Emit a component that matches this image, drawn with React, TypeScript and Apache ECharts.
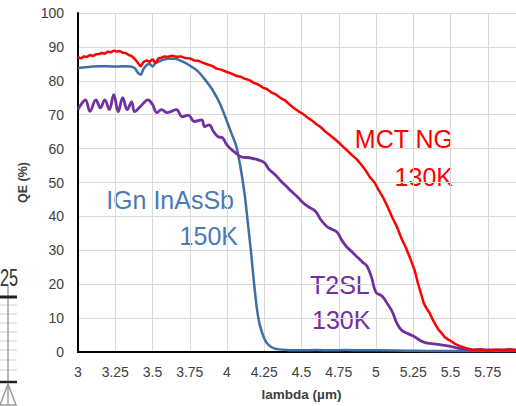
import React, { useEffect, useRef } from "react";
import * as echarts from "echarts";

// Wavelength (µm) and QE (%) values
const mctX = [3.0,3.02,3.04,3.06,3.08,3.1,3.12,3.14,3.16,3.18,3.2,3.22,3.24,3.26,3.28,3.3,3.32,3.34,3.36,3.38,3.4,3.42,3.44,3.46,3.48,3.5,3.52,3.54,3.56,3.58,3.6,3.63,3.66,3.69,3.72,3.75,3.78,3.81,3.84,3.87,3.9,3.93,3.96,4.0,4.03,4.06,4.09,4.12,4.15,4.18,4.21,4.24,4.27,4.3,4.33,4.36,4.39,4.42,4.45,4.48,4.51,4.54,4.57,4.6,4.63,4.66,4.69,4.72,4.75,4.78,4.81,4.84,4.87,4.9,4.93,4.96,4.99,5.02,5.05,5.08,5.11,5.14,5.17,5.2,5.23,5.26,5.28,5.3,5.32,5.34,5.36,5.38,5.4,5.42,5.44,5.46,5.48,5.5,5.53,5.56,5.6,5.65,5.7,5.75,5.8,5.85,5.9,5.95,6.0];
const mctQE = [87.0,86.6,87.2,87.0,87.6,87.3,87.8,87.9,88.2,88.0,88.6,88.4,88.9,88.6,88.8,88.3,88.2,87.6,87.3,86.5,85.4,84.2,85.6,86.0,85.6,86.4,85.2,86.6,86.8,87.2,87.0,87.4,87.1,87.2,86.7,86.6,86.0,85.9,85.3,84.8,84.4,83.6,83.3,82.6,82.1,81.5,81.2,80.6,80.2,79.4,78.9,78.0,77.5,76.5,75.9,74.9,74.2,73.0,71.9,71.0,70.2,69.2,68.3,67.2,66.3,65.0,64.0,62.9,61.8,60.5,59.3,58.0,56.9,55.3,53.6,51.5,50.0,47.6,45.4,42.6,39.6,37.0,33.6,30.8,27.6,24.0,20.5,17.5,14.5,12.8,11.5,9.6,8.0,6.5,5.6,4.4,3.8,3.3,2.4,1.8,1.2,0.6,0.8,0.4,0.7,0.5,0.8,0.4,0.6];

const ignX = [3.0,3.05,3.1,3.15,3.2,3.25,3.3,3.35,3.38,3.4,3.42,3.44,3.46,3.48,3.5,3.52,3.55,3.6,3.65,3.7,3.75,3.8,3.85,3.9,3.95,4.0,4.03,4.06,4.08,4.1,4.12,4.14,4.16,4.18,4.2,4.22,4.25,4.28,4.32,4.4,4.5,4.6,4.7,4.8,4.9,5.0,5.2,5.4,5.6,5.8,6.0];
const ignQE = [83.8,84.0,84.2,84.3,84.3,84.2,84.3,84.2,83.8,82.5,81.8,83.5,84.6,85.0,84.2,85.2,85.8,86.5,86.5,85.7,84.5,83.0,80.5,77.5,73.5,68.0,64.5,61.0,57.0,52.0,46.0,38.0,30.0,21.0,13.0,8.0,4.0,2.0,1.0,0.6,0.5,0.6,0.5,0.6,0.5,0.5,0.4,0.3,0.3,0.3,0.3];

const t2slX = [3.0,3.02,3.05,3.08,3.12,3.15,3.18,3.21,3.24,3.27,3.3,3.33,3.36,3.38,3.42,3.47,3.5,3.53,3.56,3.6,3.66,3.7,3.74,3.78,3.83,3.85,3.88,3.91,3.94,3.97,4.0,4.05,4.1,4.15,4.2,4.25,4.28,4.33,4.36,4.4,4.43,4.47,4.5,4.54,4.58,4.6,4.63,4.67,4.7,4.74,4.77,4.8,4.84,4.87,4.91,4.94,4.97,5.0,5.04,5.08,5.11,5.14,5.17,5.21,5.25,5.32,5.4,5.48,5.58,5.65,5.8,6.0];
const t2slQE = [71.5,73.0,74.4,71.0,74.4,72.0,74.4,71.5,75.9,70.9,75.0,71.5,73.8,70.9,72.5,74.4,73.0,70.6,71.5,70.6,71.5,69.4,69.9,68.0,68.5,66.5,67.0,65.0,63.5,63.2,61.0,59.0,57.5,57.3,56.8,55.9,54.0,52.0,50.5,48.8,47.5,45.9,44.5,43.0,42.0,41.2,39.0,37.0,36.3,35.3,33.0,31.2,29.5,28.2,26.5,25.3,22.0,17.6,16.5,14.0,11.8,8.5,6.5,5.5,4.7,2.9,2.3,1.8,0.9,0.6,0.6,0.6];

const xTicksMin = 3;
const xTicksMax = 6;
const xTickStep = 0.25;
const yTicksMin = 0;
const yTicksMax = 100;
const yTickStep = 10;

const seriesNames = ["IGn InAsSb 150K", "T2SL 130K", "MCT NG 130K"];

const pair = (xs: number[], ys: number[]) => xs.map((x, i) => [x, ys[i]]);

export default function App() {
  const ref = useRef<HTMLDivElement>(null);
  useEffect(() => {
    if (!ref.current) return;
    const chart = echarts.init(ref.current, undefined, { renderer: "svg" });
    const labelColor = "#404040";
    const annFont = "Liberation Sans, Arial, sans-serif";
    const gridLines: any[] = [];
    [305, 314, 323, 332, 341, 350, 360, 370].forEach((y) =>
      gridLines.push({
        type: "line",
        shape: { x1: 0, y1: y, x2: 17, y2: y },
        style: { stroke: "#d0d0d0", lineWidth: 1 },
        silent: true,
      })
    );
    chart.setOption({
      animation: false,
      backgroundColor: "#ffffff",
      grid: { left: 78, top: 13, right: 5, bottom: 53, containLabel: false },
      xAxis: {
        type: "value",
        min: xTicksMin,
        max: xTicksMax,
        interval: xTickStep,
        name: "lambda (µm)",
        nameLocation: "middle",
        nameGap: 35,
        nameTextStyle: { fontWeight: "bold", fontSize: 13.5, color: labelColor, fontFamily: annFont },
        axisLine: { lineStyle: { color: "#000", width: 2 } },
        axisTick: { show: false },
        axisLabel: { color: labelColor, fontSize: 14, margin: 13, fontFamily: annFont, showMaxLabel: false },
        splitLine: { show: true, lineStyle: { color: "#d9d9d9", width: 1 } },
      },
      yAxis: {
        type: "value",
        min: yTicksMin,
        max: yTicksMax,
        interval: yTickStep,
        name: "QE (%)",
        nameLocation: "middle",
        nameGap: 44,
        nameRotate: 90,
        nameTextStyle: { fontWeight: "bold", fontSize: 12.5, color: labelColor, fontFamily: annFont },
        axisLine: { show: true, lineStyle: { color: "#000", width: 2 } },
        axisTick: { show: false },
        axisLabel: { color: labelColor, fontSize: 14, margin: 14, fontFamily: annFont },
        splitLine: { show: true, lineStyle: { color: "#d9d9d9", width: 1 } },
      },
      series: [
        {
          name: seriesNames[0],
          type: "line",
          data: pair(ignX, ignQE),
          showSymbol: false,
          smooth: 0.3,
          lineStyle: { color: "#3C6FA5", width: 2.5 },
        },
        {
          name: seriesNames[1],
          type: "line",
          data: pair(t2slX, t2slQE),
          showSymbol: false,
          smooth: 0.4,
          lineStyle: { color: "#7030A0", width: 2.8 },
        },
        {
          name: seriesNames[2],
          type: "line",
          data: pair(mctX, mctQE),
          showSymbol: false,
          lineStyle: { color: "#FF0000", width: 2.5 },
        },
      ],
      graphic: [
        { type: "text", x: 234, y: 199.5, style: { text: "IGn InAsSb", fill: "#4A7AB5", fontSize: 25, fontFamily: annFont, align: "right", verticalAlign: "middle" } },
        { type: "text", x: 238, y: 235.5, style: { text: "150K", fill: "#4A7AB5", fontSize: 25, fontFamily: annFont, align: "right", verticalAlign: "middle" } },
        { type: "text", x: 453, y: 138.5, style: { text: "MCT NG", fill: "#FF0000", fontSize: 25, fontFamily: annFont, align: "right", verticalAlign: "middle" } },
        { type: "text", x: 453, y: 176.5, style: { text: "130K", fill: "#FF0000", fontSize: 25, fontFamily: annFont, align: "right", verticalAlign: "middle" } },
        { type: "text", x: 310, y: 284.5, style: { text: "T2SL", fill: "#7030A0", fontSize: 25, fontFamily: annFont, align: "left", verticalAlign: "middle" } },
        { type: "text", x: 312, y: 319.5, style: { text: "130K", fill: "#7030A0", fontSize: 25, fontFamily: annFont, align: "left", verticalAlign: "middle" } },
        // cropped fragment of a neighbouring figure at the left edge
        ...gridLines,
        { type: "line", shape: { x1: 8, y1: 286, x2: 8, y2: 406 }, style: { stroke: "#a0a0a0", lineWidth: 1.5 }, silent: true },
        { type: "line", shape: { x1: 0, y1: 297, x2: 17, y2: 297 }, style: { stroke: "#222", lineWidth: 3 }, silent: true },
        { type: "line", shape: { x1: 0, y1: 382, x2: 17, y2: 382 }, style: { stroke: "#222", lineWidth: 2.5 }, silent: true },
        { type: "polygon", shape: { points: [[8, 384], [0, 405], [16, 405]] }, style: { fill: "none", stroke: "#999", lineWidth: 1.5 }, silent: true },
        { type: "text", x: 0, y: 277, scaleX: 0.68, style: { text: "25", fill: "#333", fontSize: 24, fontFamily: annFont, align: "left", verticalAlign: "middle" } },
      ],
    });
    return () => chart.dispose();
  }, []);
  return (
    <div style={{ position: "absolute", left: 0, top: 0, width: 516, height: 406, overflow: "hidden" }}>
      <div ref={ref} style={{ width: 530, height: 406 }} />
    </div>
  );
}
